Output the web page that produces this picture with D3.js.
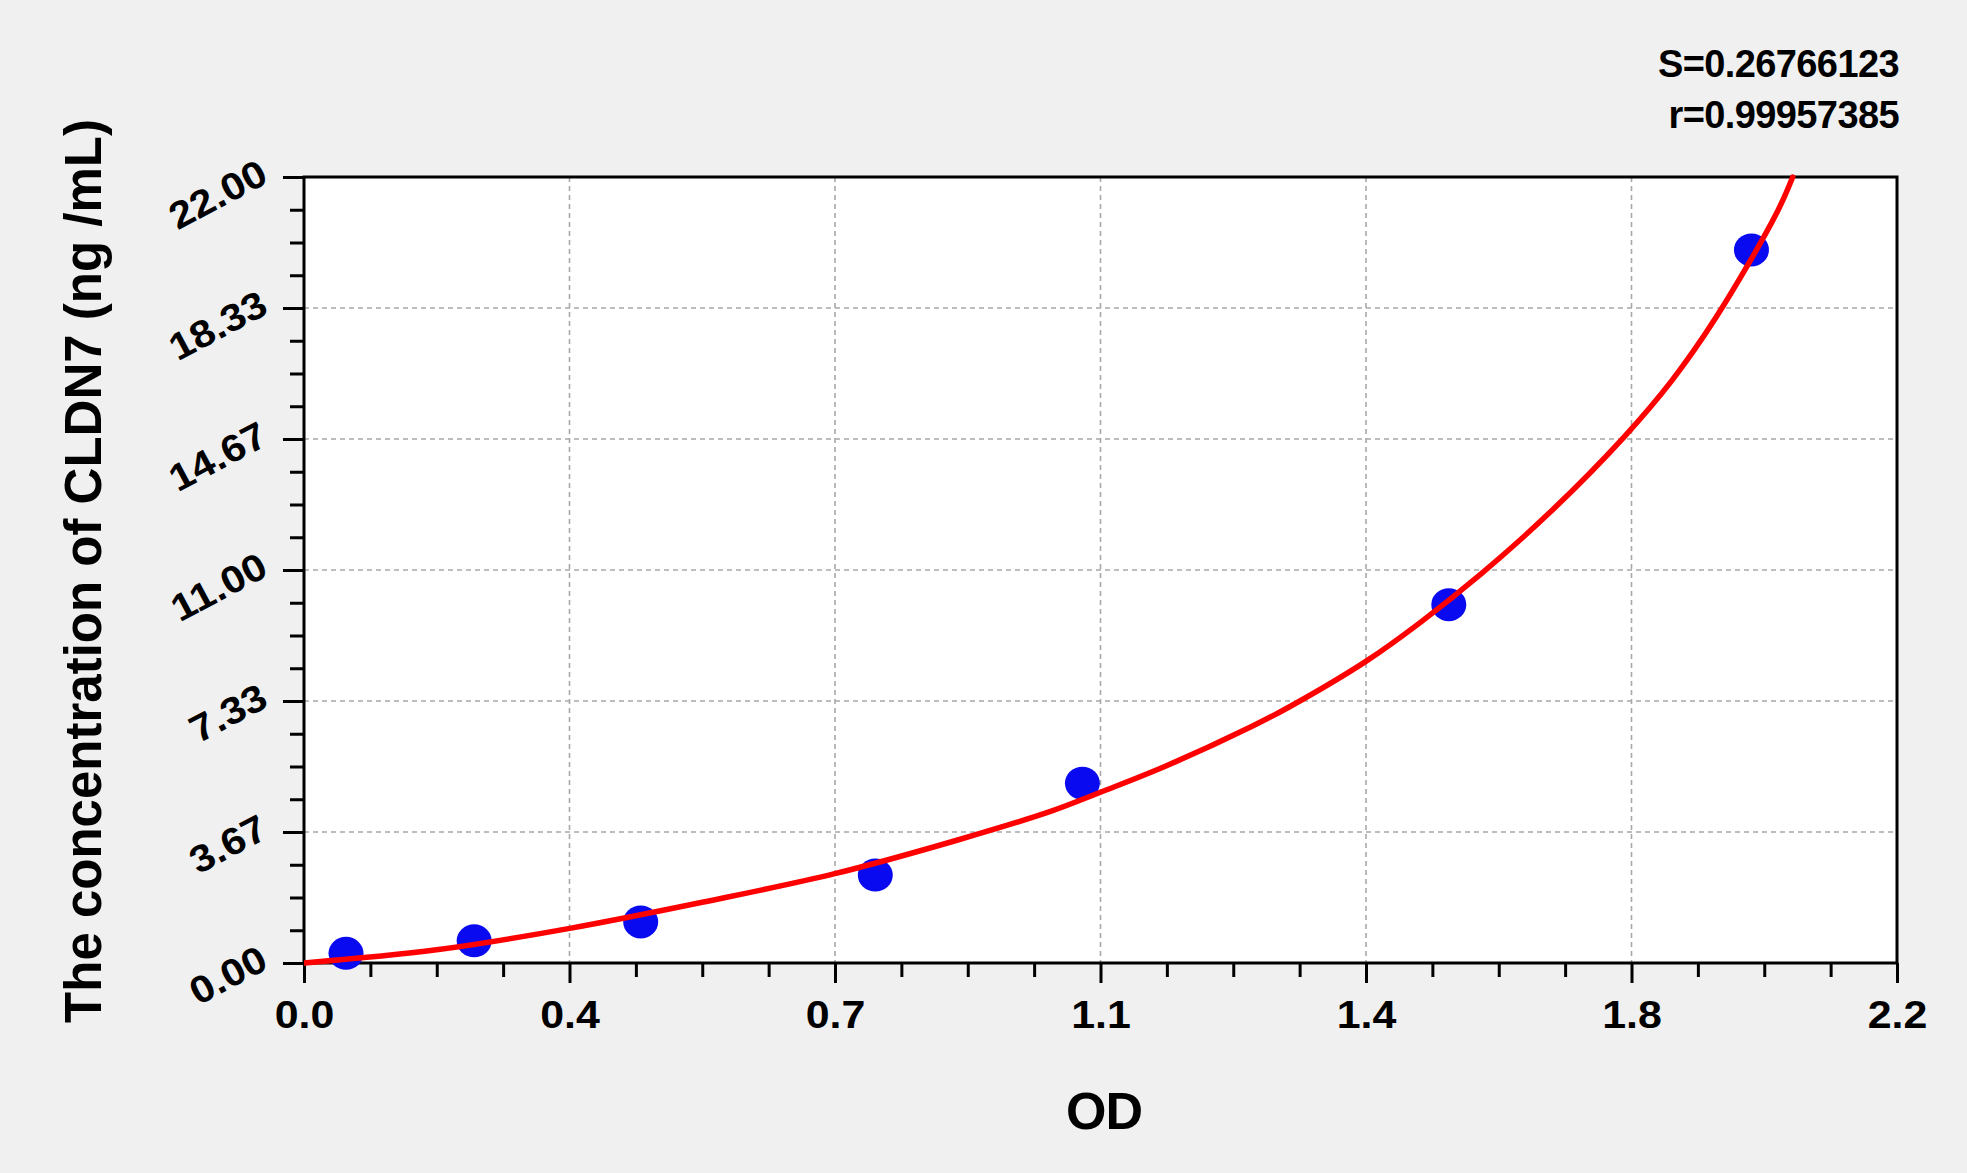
<!DOCTYPE html>
<html><head><meta charset="utf-8">
<script src="https://cdn.jsdelivr.net/npm/d3@7/dist/d3.min.js"></script>
<style>
html,body{margin:0;padding:0;background:#f0f0f0;overflow:hidden}
text{font-family:"Liberation Sans",Arial,sans-serif;font-weight:bold;fill:#000}
</style>
</head><body><svg id="chart" width="1967" height="1173"></svg>
<script>
// ---- data ----
const odValues   = [0.058, 0.235, 0.465, 0.789, 1.075, 1.581, 1.999];
const concValues = [0.27, 0.62, 1.15, 2.46, 5.03, 10.03, 19.96];
const curveOD   = [0, 0.183, 0.367, 0.55, 0.733, 0.904, 1.032, 1.1, 1.1887, 1.3087, 1.3618, 1.467, 1.5396, 1.626, 1.72, 1.822, 1.889, 1.951, 2.034, 2.056];
const curveConc = [0, 0.37, 0.97, 1.70, 2.50, 3.45, 4.25, 4.78, 5.50, 6.62, 7.18, 8.45, 9.50, 10.90, 12.60, 14.70, 16.30, 18.10, 21.00, 22.00];
const xTickLabels = ["0.0","0.4","0.7","1.1","1.4","1.8","2.2"];
const yTickLabels = ["0.00","3.67","7.33","11.00","14.67","18.33","22.00"];
const xDomain = [0, 2.2];
const yDomain = [0, 22];
const statLines = ["S=0.26766123", "r=0.99957385"];
const xTitle = "OD";
const yTitle = "The concentration of CLDN7 (ng /mL)";

// ---- layout ----
const L = 304, R = 1897, T = 177, B = 963;
const svg = d3.select("#chart");
svg.append("rect").attr("width",1967).attr("height",1173).attr("fill","#f0f0f0");

const x = d3.scaleLinear().domain(xDomain).range([L, R]);
const y = d3.scaleLinear().domain(yDomain).range([B, T]);

const nMaj = xTickLabels.length - 1;
const xMajor = xTickLabels.map((_, i) => xDomain[0] + (xDomain[1]-xDomain[0]) * i / nMaj);
const yMajor = yTickLabels.map((_, i) => yDomain[0] + (yDomain[1]-yDomain[0]) * i / nMaj);
const xMinor = d3.range(nMaj*4 + 1).map(i => xDomain[1] * i / (nMaj*4)).filter((_, i) => i % 4 !== 0);
const yMinor = d3.range(nMaj*4 + 1).map(i => yDomain[1] * i / (nMaj*4)).filter((_, i) => i % 4 !== 0);

// plot area
svg.append("rect").attr("x",L).attr("y",T).attr("width",R-L).attr("height",B-T).attr("fill","#fff");

// grid
const grid = svg.append("g").attr("stroke","#a8a8a8").attr("stroke-width",1.6).attr("stroke-dasharray","5,4");
grid.selectAll("line.v").data(xMajor.slice(1, -1)).join("line")
  .attr("x1", d => x(d)).attr("x2", d => x(d)).attr("y1", T).attr("y2", B);
grid.selectAll("line.h").data(yMajor.slice(1, -1)).join("line")
  .attr("y1", d => y(d)).attr("y2", d => y(d)).attr("x1", L).attr("x2", R);

// axes
function styleAxis(g){
  g.select(".domain").remove();
  g.selectAll(".tick line").attr("stroke","#000").attr("stroke-width",3);
}
svg.append("g").attr("transform",`translate(0,${B})`)
  .call(d3.axisBottom(x).tickValues(xMinor).tickSize(14).tickFormat(""))
  .call(styleAxis);
const gx = svg.append("g").attr("transform",`translate(0,${B})`)
  .call(d3.axisBottom(x).tickValues(xMajor).tickSize(20).tickPadding(8).tickFormat((d,i) => xTickLabels[i]))
  .call(styleAxis);
gx.selectAll(".tick text").attr("font-size",38).attr("dy",0).attr("y",0)
  .attr("transform","translate(0,65) scale(1.13,1)")
  .attr("font-family",'"Liberation Sans",Arial,sans-serif').attr("font-weight","bold").attr("fill","#000");

svg.append("g").attr("transform",`translate(${L},0)`)
  .call(d3.axisLeft(y).tickValues(yMinor).tickSize(14).tickFormat(""))
  .call(styleAxis);
const gy = svg.append("g").attr("transform",`translate(${L},0)`)
  .call(d3.axisLeft(y).tickValues(yMajor).tickSize(21).tickFormat((d,i) => yTickLabels[i]))
  .call(styleAxis);
gy.selectAll(".tick text").attr("font-size",38).attr("x",0).attr("dy",0)
  .attr("text-anchor","end").attr("transform","translate(-34,4) rotate(-28) scale(1.1,1)")
  .attr("font-family",'"Liberation Sans",Arial,sans-serif').attr("font-weight","bold").attr("fill","#000");

// frame
svg.append("rect").attr("x",L).attr("y",T).attr("width",R-L).attr("height",B-T)
  .attr("fill","none").attr("stroke","#000").attr("stroke-width",3);

// clip
svg.append("clipPath").attr("id","clip").append("rect")
  .attr("x",L).attr("y",T-4).attr("width",R-L).attr("height",B-T+8);

// points
const pts = odValues.map((d,i) => ({x:d, y:concValues[i]}));
svg.append("g").selectAll("ellipse").data(pts).join("ellipse")
  .attr("cx", d => x(d.x)).attr("cy", d => y(d.y)).attr("rx",17.5).attr("ry",16.5)
  .attr("fill","#0a0af0");

// fitted curve
const cpts = curveOD.map((d,i) => [d, curveConc[i]]);
svg.append("path").datum(cpts)
  .attr("clip-path","url(#clip)")
  .attr("d", d3.line().x(d => x(d[0])).y(d => y(d[1])).curve(d3.curveCatmullRom.alpha(0.5)))
  .attr("fill","none").attr("stroke","#ff0000").attr("stroke-width",5.5).attr("stroke-linecap","round");

// titles
svg.append("text").attr("x",1104).attr("y",1129).attr("text-anchor","middle")
  .attr("font-size",52).attr("letter-spacing",-1).text(xTitle);
svg.append("text").attr("transform","translate(101,571) rotate(-90)").attr("text-anchor","middle")
  .attr("font-size",51).text(yTitle);

// stats
svg.selectAll("text.stat").data(statLines).join("text").attr("class","stat")
  .attr("x",1899).attr("y",(d,i) => 77 + i*51).attr("text-anchor","end")
  .attr("font-size",38).attr("letter-spacing",-0.6).text(d => d);
</script>
</body></html>
